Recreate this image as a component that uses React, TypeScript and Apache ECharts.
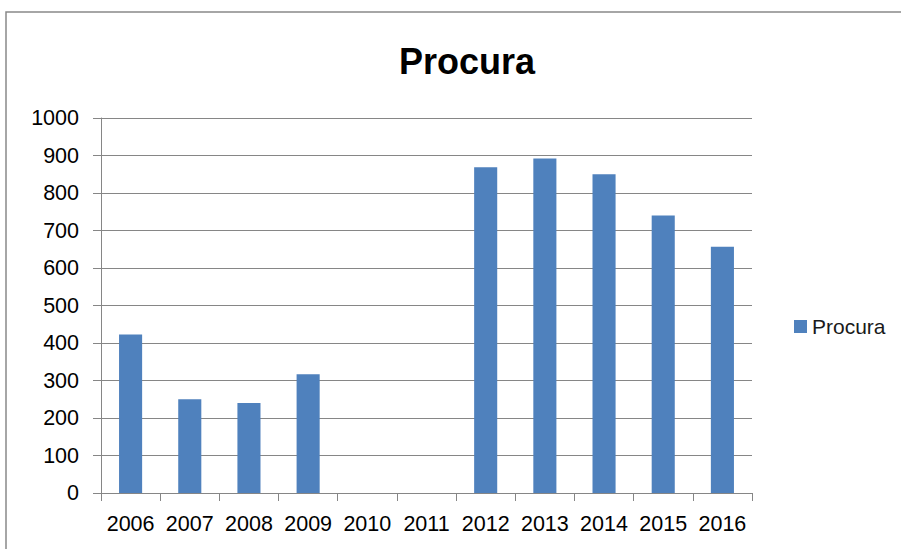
import React, { useEffect, useRef } from "react";
import * as echarts from "echarts";

const categories = ["2006", "2007", "2008", "2009", "2010", "2011", "2012", "2013", "2014", "2015", "2016"];
const procura: (number | null)[] = [423, 250, 240, 317, null, null, 869, 892, 850, 740, 657];
const seriesName = "Procura";
const titleText = "Procura";

export default function App() {
  const ref = useRef<HTMLDivElement>(null);
  useEffect(() => {
    if (!ref.current) return;
    const chart = echarts.init(ref.current, null, { renderer: "svg" });
    chart.setOption({
      animation: false,
      backgroundColor: "#ffffff",
      textStyle: { fontFamily: "Liberation Sans" },
      title: {
        text: titleText,
        left: 462,
        top: 38,
        textAlign: "center",
        textStyle: { fontSize: 36, fontWeight: "bold", color: "#000", fontFamily: "Liberation Sans" },
      },
      legend: {
        left: 789,
        top: 311,
        itemWidth: 13,
        itemHeight: 13,
        icon: "rect",
        textStyle: { fontSize: 21, color: "#1a1a1a", fontFamily: "Liberation Sans" },
        data: [seriesName],
      },
      grid: { left: 101, right: 149, top: 118, bottom: 56, containLabel: false },
      xAxis: {
        type: "category",
        data: categories,
        axisLine: { lineStyle: { color: "#868686", width: 1 } },
        axisTick: { show: true, length: 8, lineStyle: { color: "#868686" } },
        axisLabel: { interval: 0, margin: 20, fontSize: 21.5, color: "#000", fontFamily: "Liberation Sans" },
      },
      yAxis: {
        type: "value",
        min: 0,
        max: 1000,
        interval: 100,
        axisLine: { show: true, lineStyle: { color: "#868686", width: 1 } },
        axisTick: { show: true, length: 8, lineStyle: { color: "#868686" } },
        axisLabel: {
          margin: 22,
          fontSize: 21.5,
          color: "#000",
          fontFamily: "Liberation Sans",
          formatter: (v: number) => String(v),
        },
        splitLine: { show: true, lineStyle: { color: "#868686", width: 1 } },
      },
      series: [
        {
          name: seriesName,
          type: "bar",
          data: procura,
          barWidth: "39%",
          itemStyle: { color: "#4F81BD" },
        },
      ],
      graphic: [
        {
          type: "rect",
          shape: { x: 6, y: 12, width: 1000, height: 1000 },
          style: { fill: "none", stroke: "#898989", lineWidth: 1.5 },
          silent: true,
        },
      ],
    });
    return () => chart.dispose();
  }, []);
  return (
    <div
      ref={ref}
      style={{ position: "fixed", left: 0, top: 0, width: 901, height: 549 }}
    />
  );
}
